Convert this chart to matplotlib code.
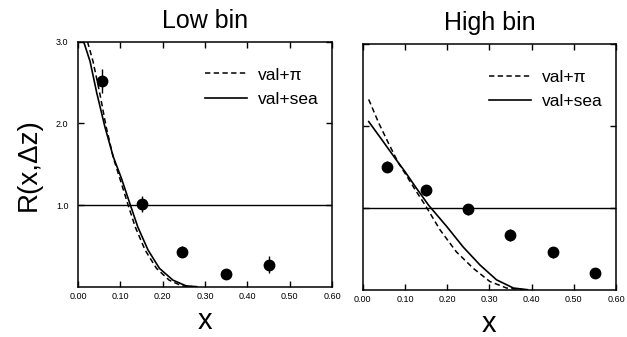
import matplotlib
matplotlib.use("Agg")
import matplotlib.pyplot as plt

plt.rcParams['font.family'] = ['Liberation Sans', 'DejaVu Sans']

# ---- data ----
titles = ["Low bin", "High bin"]
xticks = [0.0, 0.1, 0.2, 0.3, 0.4, 0.5, 0.6]
xticklabels = ["0.00", "0.10", "0.20", "0.30", "0.40", "0.50", "0.60"]
yticks = [1.0, 2.0, 3.0]
yticklabels = ["1.0", "2.0", "3.0"]

low_x = [0.057, 0.151, 0.246, 0.35, 0.45]
low_y = [2.52, 1.01, 0.43, 0.15, 0.27]
low_err = [0.15, 0.10, 0.07, 0.04, 0.10]

high_x = [0.057, 0.15, 0.25, 0.35, 0.45, 0.55]
high_y = [1.50, 1.21, 0.98, 0.667, 0.456, 0.20]
high_err = [0.07, 0.07, 0.07, 0.07, 0.07, 0.04]

low_sea_x = [0.013, 0.028, 0.044, 0.063, 0.083, 0.102, 0.122, 0.141, 0.165, 0.192, 0.224, 0.255, 0.28]
low_sea_y = [3.0, 2.76, 2.37, 1.96, 1.59, 1.33, 1.02, 0.73, 0.45, 0.225, 0.08, 0.01, 0.0]
low_pi_x = [0.022, 0.035, 0.051, 0.066, 0.083, 0.100, 0.118, 0.135, 0.158, 0.185, 0.215, 0.245, 0.27]
low_pi_y = [3.0, 2.76, 2.37, 1.96, 1.58, 1.30, 1.0, 0.73, 0.45, 0.225, 0.08, 0.01, 0.0]

high_sea_x = [0.014, 0.045, 0.077, 0.100, 0.124, 0.156, 0.199, 0.238, 0.278, 0.317, 0.357, 0.39]
high_sea_y = [2.05, 1.83, 1.60, 1.44, 1.26, 1.03, 0.77, 0.52, 0.30, 0.12, 0.02, 0.0]
high_pi_x = [0.014, 0.038, 0.061, 0.085, 0.100, 0.124, 0.148, 0.183, 0.222, 0.262, 0.301, 0.341, 0.38]
high_pi_y = [2.32, 2.03, 1.785, 1.54, 1.42, 1.22, 1.03, 0.73, 0.46, 0.26, 0.10, 0.02, 0.0]

ref_level = 1.0

fig = plt.figure(figsize=(6.27, 3.37), dpi=100)
axL = fig.add_axes([0.1247, 0.1493, 0.4048, 0.727])
axR = fig.add_axes([0.5786, 0.1404, 0.4038, 0.730])

panels = [
    (axL, low_x, low_y, low_err, low_pi_x, low_pi_y, low_sea_x, low_sea_y, True),
    (axR, high_x, high_y, high_err, high_pi_x, high_pi_y, high_sea_x, high_sea_y, False),
]

for i, (ax, dx, dy, de, px, py, sx, sy, showy) in enumerate(panels):
    ax.plot(px, py, color='black', lw=1.1, dashes=(3.5, 2.2), label='val+\u03c0')
    ax.plot(sx, sy, color='black', lw=1.2, label='val+sea')
    ax.axhline(ref_level, color='black', lw=1.0)
    ax.errorbar(dx, dy, yerr=de, fmt='o', color='black', ms=7.5, elinewidth=1.0, capsize=0)
    ax.set_xlim(0, 0.6)
    ax.set_ylim(0, 3.0)
    ax.set_xticks(xticks)
    ax.set_xticklabels(xticklabels)
    ax.set_yticks(yticks)
    if showy:
        ax.set_yticklabels(yticklabels)
        ax.set_ylabel('R(x,\u0394z)', fontsize=20, labelpad=10)
    else:
        ax.set_yticklabels([])
    ax.tick_params(direction='in', top=True, right=True, length=4.5, width=1.0,
                   labelsize=6.5)
    ax.tick_params(axis='x', pad=4)
    ax.tick_params(axis='y', pad=7)
    for sp in ax.spines.values():
        sp.set_linewidth(1.1)
    ax.set_title(titles[i], fontsize=18, pad=10)
    ax.set_xlabel('x', fontsize=21, labelpad=4)
    leg = ax.legend(loc='upper left', bbox_to_anchor=(0.50, 0.895), frameon=False,
                    fontsize=12.5, handlelength=2.4, handletextpad=0.65,
                    labelspacing=0.55, borderpad=0, borderaxespad=0)

fig.savefig('out.png', dpi=100)
